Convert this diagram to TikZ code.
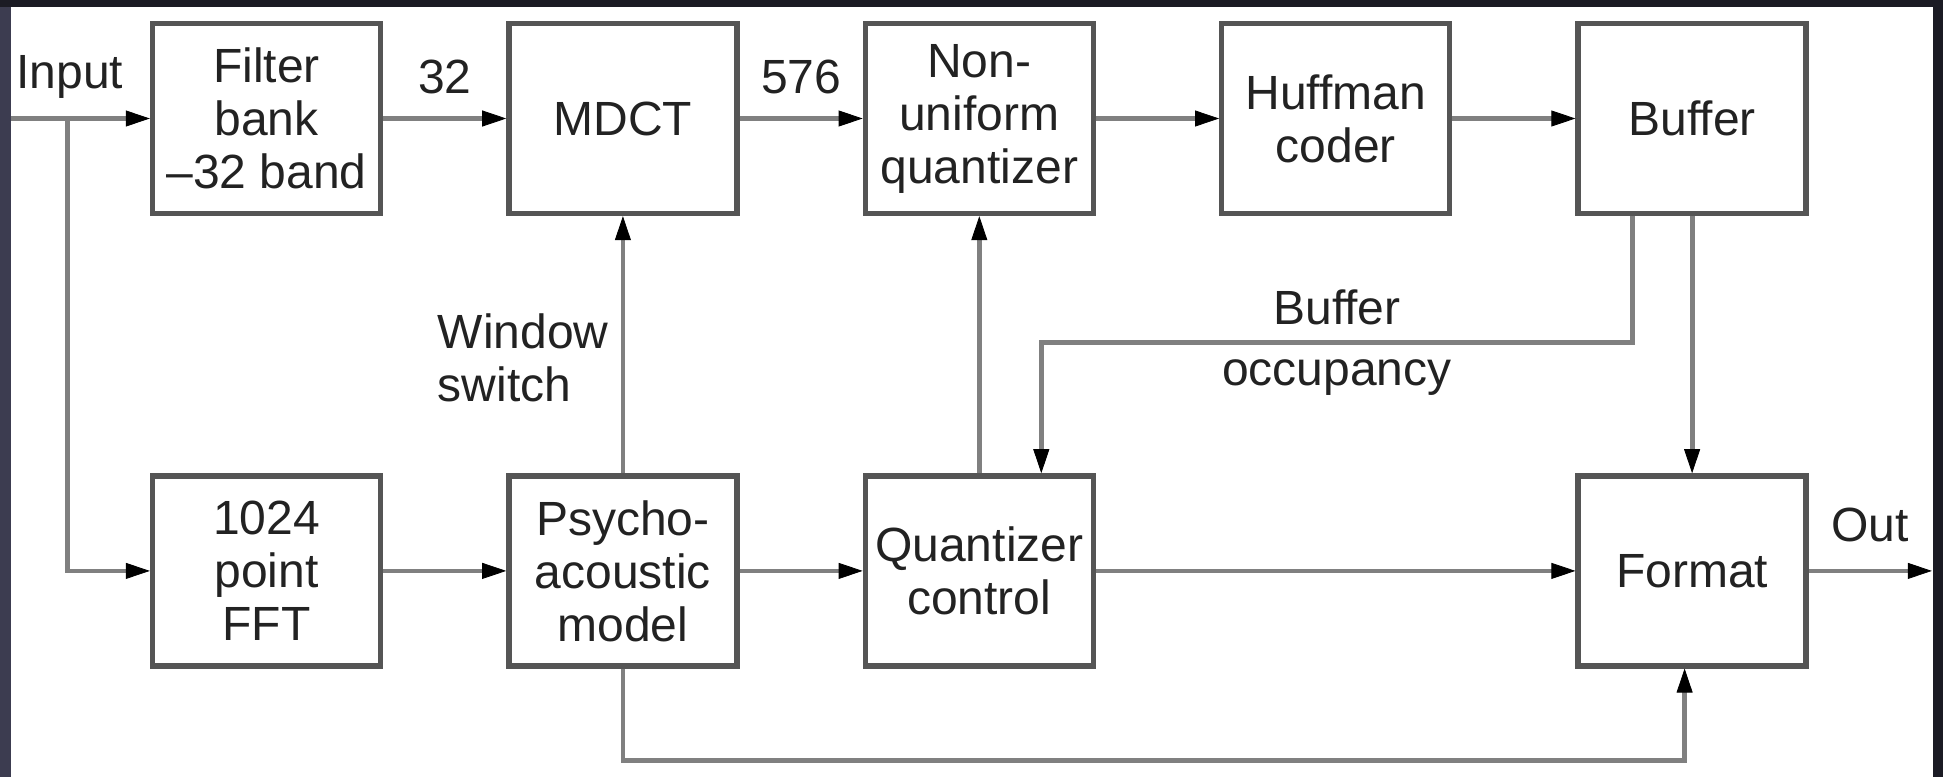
\documentclass[tikz,border=0pt]{standalone}
\usepackage{fontspec}
\setmainfont{Liberation Sans}
\usepackage{xcolor}
\usepackage{tikz}
\usetikzlibrary{positioning}
\usetikzlibrary{arrows.meta}

\definecolor{framedark}{HTML}{1B1B24}
\definecolor{frameslate}{HTML}{3C3C50}
\definecolor{boxgray}{HTML}{555555}
\definecolor{linegray}{HTML}{808080}
\definecolor{textdark}{HTML}{222222}

\begin{document}
\begin{tikzpicture}

        \def\gx{61.5pt}
        \def\gy{128.5pt}

        % Blocks, signal lines and the small labels beside them
        \tikzset{
            block/.style={draw=boxgray, line width=2.7pt, fill=white,
                minimum width=114pt, minimum height=95pt, inner sep=2pt,
                align=center, text=textdark,
                font=\fontsize{24}{26.5}\selectfont},
            sig/.style={draw=linegray, line width=2.4pt,
                -{Triangle[length=12pt, width=8pt, color=black, line width=0.4pt]}},
            lbl/.style={inner sep=0pt, text=textdark,
                font=\fontsize{24}{26.5}\selectfont}
        }

        % Dark frame round the white sheet
        \useasboundingbox (0,0) rectangle (971.5pt,-388.5pt);
        \fill[framedark] (0,0) rectangle (971.5pt,-388.5pt);
        \fill[frameslate] (0,-3.5pt) rectangle (5.5pt,-388.5pt);
        \fill[white] (5.5pt,-3.5pt) rectangle (966.5pt,-388.5pt);

        \begin{scope}
            \node[block] (filt) at (133.25pt,-59.25pt) {Filter\\bank\\–32 band};
            \node[block] (mdct) [right=\gx of filt] {MDCT};
            \node[block] (nonuni) [right=\gx of mdct]
            {Non-\\uniform\\quantizer};
            \node[block] (huff) [right=\gx of nonuni] {Huffman\\coder};
            \node[block] (buf) [right=\gx of huff] {Buffer};

            \node[block] (fft) [below=\gy of filt] {1024\\point\\FFT};
            \node[block] (psy) [below=\gy of mdct]
            {Psycho-\\acoustic\\model};
            \node[block] (qc) [below=\gy of nonuni] {Quantizer\\control};
            \node[block] (fmt) [below=\gy of buf] {Format};

            \coordinate (in) at ([xshift=-69.5pt]filt.west);
            \coordinate (split) at ([xshift=-41pt]filt.west);
            \coordinate (out) at ([xshift=61.5pt]fmt.east);

            \node[lbl] (inlbl) at ([xshift=1pt, yshift=20.75pt]split) {Input};
        \end{scope}

        \begin{scope}
            \draw[sig] (in) -- (filt.west);
            \draw[sig] (split) |- (fft.west);
            \draw[sig] (filt) -- node (lbl32) [lbl, yshift=20.75pt] {32} (mdct);
            \draw[sig] (mdct) -- node (lbl576) [lbl, yshift=20.75pt] {576} (nonuni);
            \draw[sig] (nonuni) -- (huff);
            \draw[sig] (huff) -- (buf);

            \draw[sig] (fft) -- (psy);
            \draw[sig] (psy) -- (qc);
            \draw[sig] (qc) -- (fmt);
            \draw[sig] (fmt.east) -- node (outlbl) [lbl, yshift=23pt] {Out} (out);

            \draw[sig] (psy) -- node (winlbl) [lbl, left=6pt, align=left, pos=0.45]
            {Window\\switch} (mdct);
            \draw[sig] (qc) -- (nonuni);
            \draw[sig] (buf) -- (fmt);
            \draw[sig] ([xshift=-29.75pt]buf.south) -- ++(0,-63pt)
            -| node (occlbl) [lbl, pos=0.25, yshift=17.5pt] {Buffer}
               node (occlbl2) [lbl, pos=0.25, yshift=-17.5pt] {occupancy}
            ([xshift=31pt]qc.north);
            \draw[sig] (psy.south) -- ++(0,-46pt) -| ([xshift=-3.75pt]fmt.south);
        \end{scope}

\end{tikzpicture}
\end{document}
